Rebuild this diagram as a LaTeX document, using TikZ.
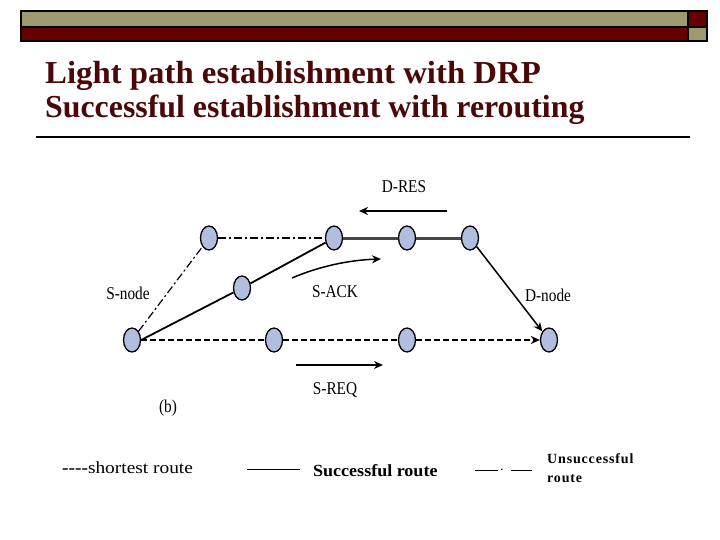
\documentclass[tikz,border=0pt]{standalone}
\usepackage{fontspec}
\setmainfont{Liberation Serif}
\usetikzlibrary{shapes.geometric,arrows.meta}
\definecolor{olivebar}{RGB}{156,154,110}
\definecolor{darkbar}{RGB}{102,0,0}
\definecolor{titlecol}{RGB}{74,8,8}
\definecolor{nodeblue}{RGB}{176,190,224}
\definecolor{pathgray}{RGB}{70,70,70}
\tikzset{
  netnode/.style={ellipse,draw=black,line width=1.3pt,fill=nodeblue,minimum width=17pt,minimum height=24pt,inner sep=0pt},
  lbl/.style={font=\fontsize{18}{20}\selectfont,inner sep=0pt},
  titletext/.style={font=\fontsize{32}{36}\selectfont\bfseries,text=titlecol,anchor=base west,inner sep=0pt},
  legtext/.style={font=\fontsize{17}{19}\selectfont,anchor=base west,inner sep=0pt},
  unsucc/.style={font=\fontsize{14}{16}\selectfont\bfseries\addfontfeature{LetterSpace=6},anchor=base west,inner sep=0pt},
  tip/.style={-{Stealth[length=9pt,width=8pt]}},
  dashdot/.style={dash pattern=on 8pt off 3pt on 2pt off 3pt},
}
\begin{document}
\begin{tikzpicture}[x=1pt,y=-1pt]
\useasboundingbox (0,0) rectangle (720,540);
% header bar
\fill[olivebar] (21,11) rectangle (688,27);
\fill[darkbar] (21,27) rectangle (688,41);
\fill[darkbar] (688,11) rectangle (707,27);
\fill[olivebar] (688,27) rectangle (707,41);
\draw[line width=2pt] (21,11) rectangle (707,41);
\draw[line width=2pt] (21,27) -- (707,27);
\draw[line width=2pt] (688,11) -- (688,41);
% title
\node[titletext] (t1) at (45,84) {\scalebox{1.025}[1]{Light path establishment with DRP}};
\node[titletext] (t2) at (45,118) {\scalebox{0.995}[1]{Successful establishment with rerouting}};
\draw[line width=2pt] (36,137.5) -- (690,137.5);
% nodes
\node[netnode] (s) at (132,340) {};
\node[netnode] (a) at (209,238) {};
\node[netnode] (m) at (242,288) {};
\node[netnode] (b1) at (274,340) {};
\node[netnode] (c1) at (334,238) {};
\node[netnode] (c2) at (407,238) {};
\node[netnode] (c3) at (470,238) {};
\node[netnode] (b2) at (407,340) {};
\node[netnode] (d) at (549,340) {};
% edges
\draw[line width=1.2pt,dashdot] (s) -- (a);
\draw[line width=2pt,dashdot] (a) -- (c1);
\draw[line width=1.8pt] (s.east) -- (m);
\draw[line width=1.8pt] (m) -- (c1);
\draw[line width=3pt,pathgray] (c1) -- (c2);
\draw[line width=3pt,pathgray] (c2) -- (c3);
\draw[line width=1.5pt,tip] (c3) -- (d);
\draw[line width=2.3pt,dash pattern=on 6pt off 3pt] (s) -- (b1);
\draw[line width=2.3pt,dash pattern=on 6pt off 3pt] (b1) -- (b2);
\draw[line width=2.3pt,dash pattern=on 6pt off 3pt,tip] (b2) -- (d);
% message arrows
\coordinate (dres1) at (447,211);
\coordinate (dres2) at (359,211);
\draw[line width=1.5pt,tip] (dres1) -- (dres2);
\coordinate (sack1) at (292,278);
\coordinate (sack2) at (381,259);
\draw[line width=1.5pt,tip] (sack1) .. controls (320,266) and (350,260) .. (sack2);
\coordinate (sreq1) at (296,365);
\coordinate (sreq2) at (383,365);
\draw[line width=1.5pt,tip] (sreq1) -- (sreq2);
% labels
\node[lbl] (ldres) at (404,187) {\scalebox{0.85}[1]{D-RES}};
\node[lbl] (lsack) at (335,292) {\scalebox{0.85}[1]{S-ACK}};
\node[lbl] (lsreq) at (335,390) {\scalebox{0.85}[1]{S-REQ}};
\node[lbl] (lb) at (168,408) {\scalebox{0.85}[1]{(b)}};
\node[lbl] (lsn) at (128,293) {\scalebox{0.85}[1]{S-node}};
\node[lbl] (ldn) at (548,295) {\scalebox{0.85}[1]{D-node}};
% legend
\node[legtext] (g1) at (62,473) {\scalebox{1.14}[1]{\textbf{-{}-{}-{}-}shortest route}};
\coordinate (l2a) at (247,469);
\coordinate (l2b) at (300,469);
\draw[line width=1pt] (l2a) -- (l2b);
\node[legtext,font=\fontsize{17}{19}\selectfont\bfseries] (g2) at (313,476) {\scalebox{1.06}[1]{Successful route}};
\coordinate (l3a) at (475,470);
\coordinate (l3b) at (498,470);
\coordinate (l3c) at (511,470);
\coordinate (l3d) at (532,470);
\draw[line width=1pt] (l3a) -- (l3b);
\draw[line width=1pt] (l3c) -- (l3d);
\node[legtext,font=\fontsize{14}{16}\selectfont] (g3dot) at (500,470) {.};
\node[unsucc] (g3a) at (547,463) {Unsuccessful};
\node[unsucc] (g3b) at (547,482) {route};
\end{tikzpicture}
\end{document}
